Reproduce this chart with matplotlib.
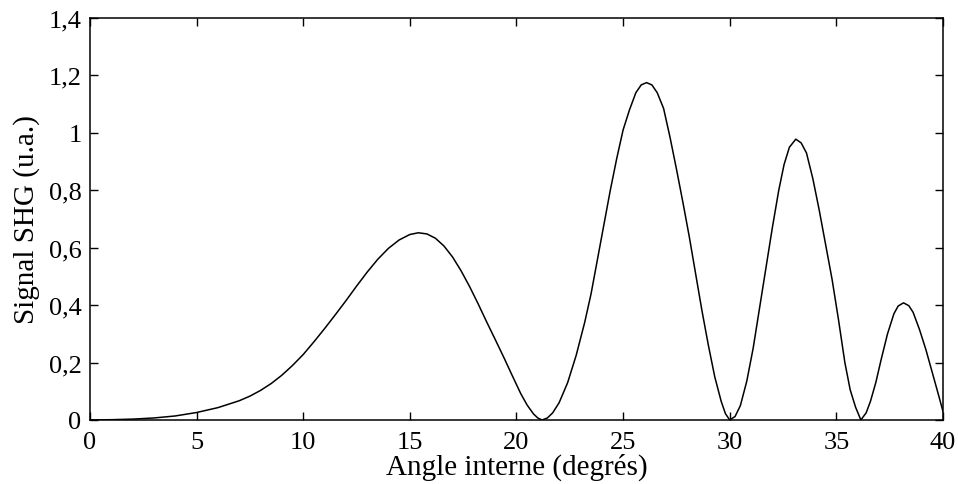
import matplotlib
matplotlib.use("Agg")
import matplotlib.pyplot as plt

# angle (deg) / SHG signal (a.u.)
angle = [0.0, 1.0, 2.0, 3.0, 4.0, 5.0, 6.0, 7.0, 7.5, 8.0, 8.5, 9.0, 9.5,
         10.0, 10.5, 11.0, 11.5, 12.0, 12.5, 13.0, 13.5, 14.0, 14.5, 15.0,
         15.4, 15.8, 16.2, 16.6, 17.0, 17.4, 17.8, 18.2, 18.6, 19.0, 19.4,
         19.8, 20.2, 20.5, 20.8, 21.0, 21.2, 21.45, 21.7, 22.0, 22.4, 22.8,
         23.2, 23.5, 23.8, 24.1, 24.4, 24.7, 25.0, 25.3, 25.6, 25.85, 26.1,
         26.35, 26.6, 26.9, 27.2, 27.5, 27.8, 28.1, 28.4, 28.7, 29.0, 29.3,
         29.6, 29.8, 30.0, 30.25, 30.5, 30.8, 31.1, 31.4, 31.7, 32.0, 32.3,
         32.55, 32.8, 33.1, 33.35, 33.6, 33.9, 34.2, 34.5, 34.8, 35.1, 35.4,
         35.65, 35.9, 36.15, 36.4, 36.6, 36.85, 37.1, 37.4, 37.7, 37.9,
         38.15, 38.4, 38.6, 38.9, 39.2, 39.5, 39.8, 40.0]
signal = [0.0, 0.001, 0.003, 0.007, 0.014, 0.026, 0.043, 0.067, 0.083,
          0.103, 0.127, 0.156, 0.19, 0.228, 0.272, 0.318, 0.366, 0.415,
          0.466, 0.515, 0.56, 0.598, 0.627, 0.646, 0.652, 0.648, 0.633,
          0.606, 0.568, 0.52, 0.465, 0.405, 0.342, 0.281, 0.219, 0.155,
          0.092, 0.052, 0.021, 0.007, 0.0, 0.007, 0.025, 0.06, 0.13, 0.225,
          0.34, 0.44, 0.56, 0.68, 0.8, 0.91, 1.01, 1.08, 1.14, 1.167, 1.175,
          1.167, 1.14, 1.085, 0.985, 0.875, 0.76, 0.64, 0.51, 0.38, 0.26,
          0.15, 0.065, 0.022, 0.0, 0.012, 0.05, 0.135, 0.25, 0.39, 0.53,
          0.67, 0.8, 0.89, 0.95, 0.978, 0.965, 0.93, 0.84, 0.73, 0.61, 0.49,
          0.35, 0.2, 0.105, 0.045, 0.0, 0.025, 0.065, 0.13, 0.21, 0.3, 0.37,
          0.397, 0.408, 0.398, 0.375, 0.315, 0.245, 0.165, 0.085, 0.03]

xticks = [0, 5, 10, 15, 20, 25, 30, 35, 40]
yticks = [0, 0.2, 0.4, 0.6, 0.8, 1.0, 1.2, 1.4]
ylabels = ["0", "0,2", "0,4", "0,6", "0,8", "1", "1,2", "1,4"]

plt.rcParams["font.family"] = "Liberation Serif"

fig = plt.figure(figsize=(9.58, 4.85), dpi=100)
ax = fig.add_axes([0.0939, 0.132, 0.8904, 0.8288])

ax.plot(angle, signal, color="black", linewidth=1.1)

ax.set_xlim(0, 40)
ax.set_ylim(0, 1.4)
ax.set_xticks(xticks)
ax.set_yticks(yticks)
ax.set_yticklabels(ylabels)
ax.tick_params(direction="in", top=True, right=True, length=6, width=1,
               labelsize=19)
ax.tick_params(axis="x", pad=8)
ax.tick_params(axis="y", pad=6)
for s in ax.spines.values():
    s.set_linewidth(1.1)

ax.set_xlabel("Angle interne (degrés)", fontsize=21, labelpad=0)
ax.set_ylabel("Signal SHG (u.a.)", fontsize=21, labelpad=6)

fig.savefig("out.png", dpi=100)
